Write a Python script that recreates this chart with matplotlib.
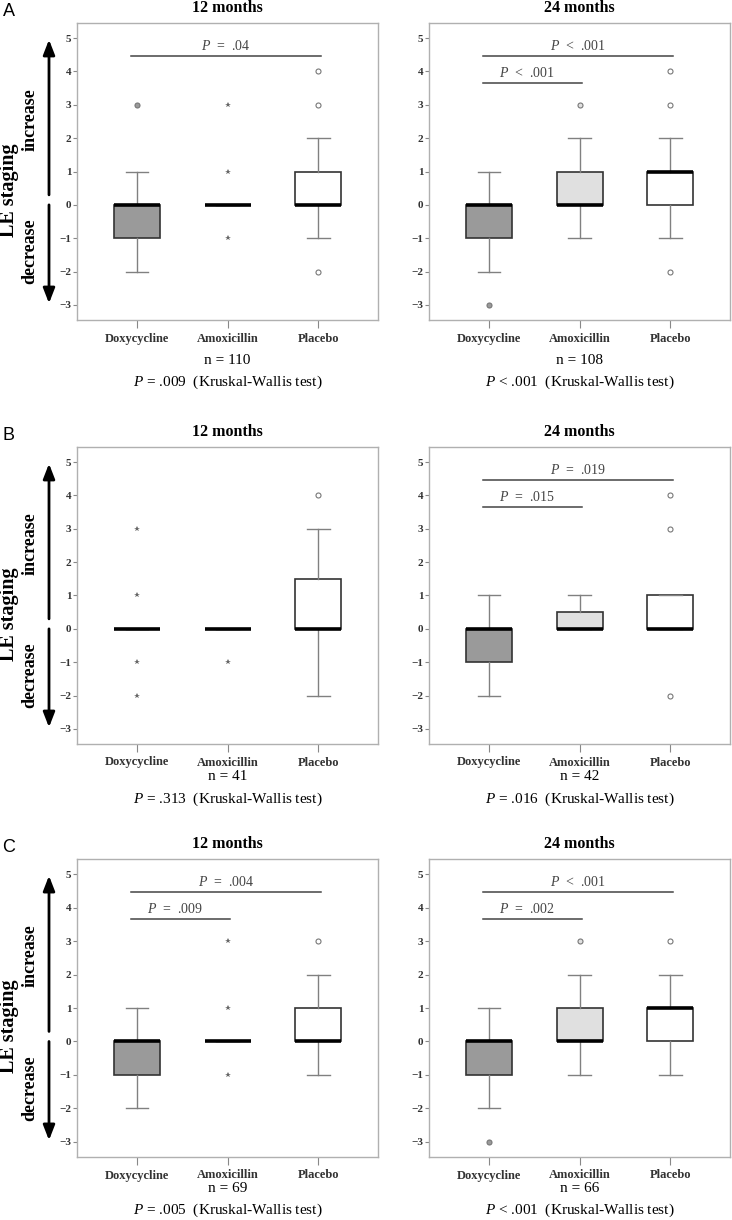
import matplotlib
matplotlib.use('Agg')
import matplotlib.pyplot as plt
from matplotlib import transforms

plt.rcParams['font.family'] = 'Liberation Serif'
plt.rcParams['mathtext.fontset'] = 'custom'
plt.rcParams['mathtext.rm'] = 'Liberation Serif'
plt.rcParams['mathtext.it'] = 'Liberation Serif:italic'
plt.rcParams['axes.unicode_minus'] = True

# groups on the x axis
groups = ['Doxycycline', 'Amoxicillin', 'Placebo']
box_colors = ['#9a9a9a', '#e0e0e0', '#ffffff']
yticks = [-3, -2, -1, 0, 1, 2, 3, 4, 5]

# box stats per group: [whisker low, q1, median, q3, whisker high]
a12_stats = [[-2, -1, 0, 0, 1], [0, 0, 0, 0, 0], [-1, 0, 0, 1, 2]]
a12_fliers = [[3], [3, 1, -1], [4, 3, -2]]
a24_stats = [[-2, -1, 0, 0, 1], [-1, 0, 0, 1, 2], [-1, 0, 1, 1, 2]]
a24_fliers = [[-3], [3], [4, 3, -2]]
b12_stats = [[0, 0, 0, 0, 0], [0, 0, 0, 0, 0], [-2, 0, 0, 1.5, 3]]
b12_fliers = [[3, 1, -1, -2], [-1], [4]]
b24_stats = [[-2, -1, 0, 0, 1], [0, 0, 0, 0.5, 1], [0, 0, 0, 1, 1]]
b24_fliers = [[], [], [4, 3, -2]]
c12_stats = [[-2, -1, 0, 0, 1], [0, 0, 0, 0, 0], [-1, 0, 0, 1, 2]]
c12_fliers = [[], [3, 1, -1], [3]]
c24_stats = [[-2, -1, 0, 0, 1], [-1, 0, 0, 1, 2], [-1, 0, 1, 1, 2]]
c24_fliers = [[-3], [3], [3]]

# pairwise comparisons (group i, group j, label), first one drawn on top
a12_sig = [(0, 2, '= .04')]
a24_sig = [(0, 2, '< .001'), (0, 1, '< .001')]
b12_sig = []
b24_sig = [(0, 2, '= .019'), (0, 1, '= .015')]
c12_sig = [(0, 2, '= .004'), (0, 1, '= .009')]
c24_sig = [(0, 2, '< .001'), (0, 1, '= .002')]

n_labels = ['110', '108', '41', '42', '69', '66']
kw_labels = ['= .009', '< .001', '= .313', '= .016', '= .005', '< .001']

panels = [
    (a12_stats, a12_fliers, a12_sig),
    (a24_stats, a24_fliers, a24_sig),
    (b12_stats, b12_fliers, b12_sig),
    (b24_stats, b24_fliers, b24_sig),
    (c12_stats, c12_fliers, c12_sig),
    (c24_stats, c24_fliers, c24_sig),
]

W, H = 732, 1220
fig = plt.figure(figsize=(W / 100, H / 100), dpi=100)

# row layout in pixels: letter, top, bottom, n offset, P offset
rows = [('A', 23, 320, 40, 62), ('B', 447, 744, 33, 55), ('C', 859, 1157, 31, 53)]
cols = [(77, 378, '12 months'), (429, 730, '24 months')]

pos = [1, 2, 3]


def draw_panel(ax, stats, fliers, sig):
    bstats = []
    for s in stats:
        bstats.append(dict(whislo=s[0], q1=s[1], med=s[2], q3=s[3], whishi=s[4], fliers=[]))
    bp = ax.bxp(bstats, positions=pos, widths=0.51, capwidths=0.25,
                patch_artist=True, showfliers=False,
                boxprops=dict(edgecolor='#333333', linewidth=1.2),
                medianprops=dict(color='black', linewidth=2.6, solid_capstyle='butt'),
                whiskerprops=dict(color='#808080', linewidth=1),
                capprops=dict(color='#808080', linewidth=1))
    for patch, c in zip(bp['boxes'], box_colors):
        patch.set_facecolor(c)
    for i, (s, fl) in enumerate(zip(stats, fliers)):
        if not fl:
            continue
        if s[3] - s[1] == 0:
            ax.plot([pos[i]] * len(fl), fl, linestyle='none', marker='*',
                    markersize=4, color='#666666', markeredgewidth=0)
        else:
            ax.plot([pos[i]] * len(fl), fl, linestyle='none', marker='o',
                    markersize=3.6, markerfacecolor=box_colors[i],
                    markeredgecolor='#777777', markeredgewidth=0.8)
    # significance bars
    levels = [4.45, 3.65]
    for k, (i, j, lab) in enumerate(sig):
        y = levels[k]
        x0 = pos[i] - 0.07
        x1 = pos[j] + 0.03
        ax.plot([x0, x1], [y, y], color='#444444', linewidth=1.1)
        xc = (x0 + x1) / 2 - (0.06 if k == 1 else 0)
        ax.text(xc, y + 0.3, '$P$  ' + lab.replace(' ', '  '), ha='center',
                va='center', fontsize=10, color='#444444')

    ax.set_xlim(0.337, 3.66)
    ax.set_ylim(-3.45, 5.45)
    ax.set_xticks(pos)
    ax.set_xticklabels(groups, fontsize=9, fontweight='bold', color='#333333')
    ax.set_yticks(yticks)
    ax.set_yticklabels([f'{t}'.replace('-', '\u2212') for t in yticks],
                       fontsize=8, fontweight='bold', color='#333333')
    ax.tick_params(axis='y', length=3, color='#888888', pad=1)
    ax.tick_params(axis='x', length=6, color='#888888', pad=3)
    for sp in ax.spines.values():
        sp.set_color('#b0b0b0')
        sp.set_linewidth(1)


idx = 0
for letter, top, bottom, n_off, p_off in rows:
    for c, (x0, x1, title) in enumerate(cols):
        ax = fig.add_axes([x0 / W, 1 - bottom / H, (x1 - x0) / W, (bottom - top) / H])
        stats, fliers, sig = panels[idx]
        draw_panel(ax, stats, fliers, sig)
        h = bottom - top
        ax.text(0.5, 1 + 15 / h, title, transform=ax.transAxes, ha='center',
                va='center', fontsize=11.5, fontweight='bold')
        ax.text(0.5, -n_off / h, 'n = ' + n_labels[idx], transform=ax.transAxes,
                ha='center', va='center', fontsize=11)
        ax.text(0.5, -p_off / h, '$P$ ' + kw_labels[idx] + '  (Kruskal-Wallis test)',
                transform=ax.transAxes, ha='center', va='center', fontsize=11)
        if c == 0:
            tr = transforms.blended_transform_factory(ax.transAxes, ax.transData)
            ax_x = (49 - x0) / (x1 - x0)
            ax.annotate('', xy=(ax_x, 4.95), xytext=(ax_x, 0.3), xycoords=tr, textcoords=tr,
                        arrowprops=dict(arrowstyle='-|>,head_width=0.35,head_length=0.9',
                                        lw=2, color='black', shrinkA=0, shrinkB=0))
            ax.annotate('', xy=(ax_x, -2.95), xytext=(ax_x, 0.0), xycoords=tr, textcoords=tr,
                        arrowprops=dict(arrowstyle='-|>,head_width=0.35,head_length=0.9',
                                        lw=2, color='black', shrinkA=0, shrinkB=0))
            ax.text((30 - x0) / (x1 - x0), 2.55, 'increase', transform=tr, rotation=90,
                    ha='center', va='center', fontsize=13, fontweight='bold')
            ax.text((30 - x0) / (x1 - x0), -1.4, 'decrease', transform=tr, rotation=90,
                    ha='center', va='center', fontsize=13, fontweight='bold')
            ax.text((9 - x0) / (x1 - x0), 0.45, 'LE staging', transform=tr, rotation=90,
                    ha='center', va='center', fontsize=14.5, fontweight='bold')
        idx += 1
    fig.text(9 / W, 1 - (top - 11) / H, letter, ha='center', va='center',
             fontsize=13, family='Liberation Sans')

fig.savefig('out.png', dpi=100, facecolor='white')
